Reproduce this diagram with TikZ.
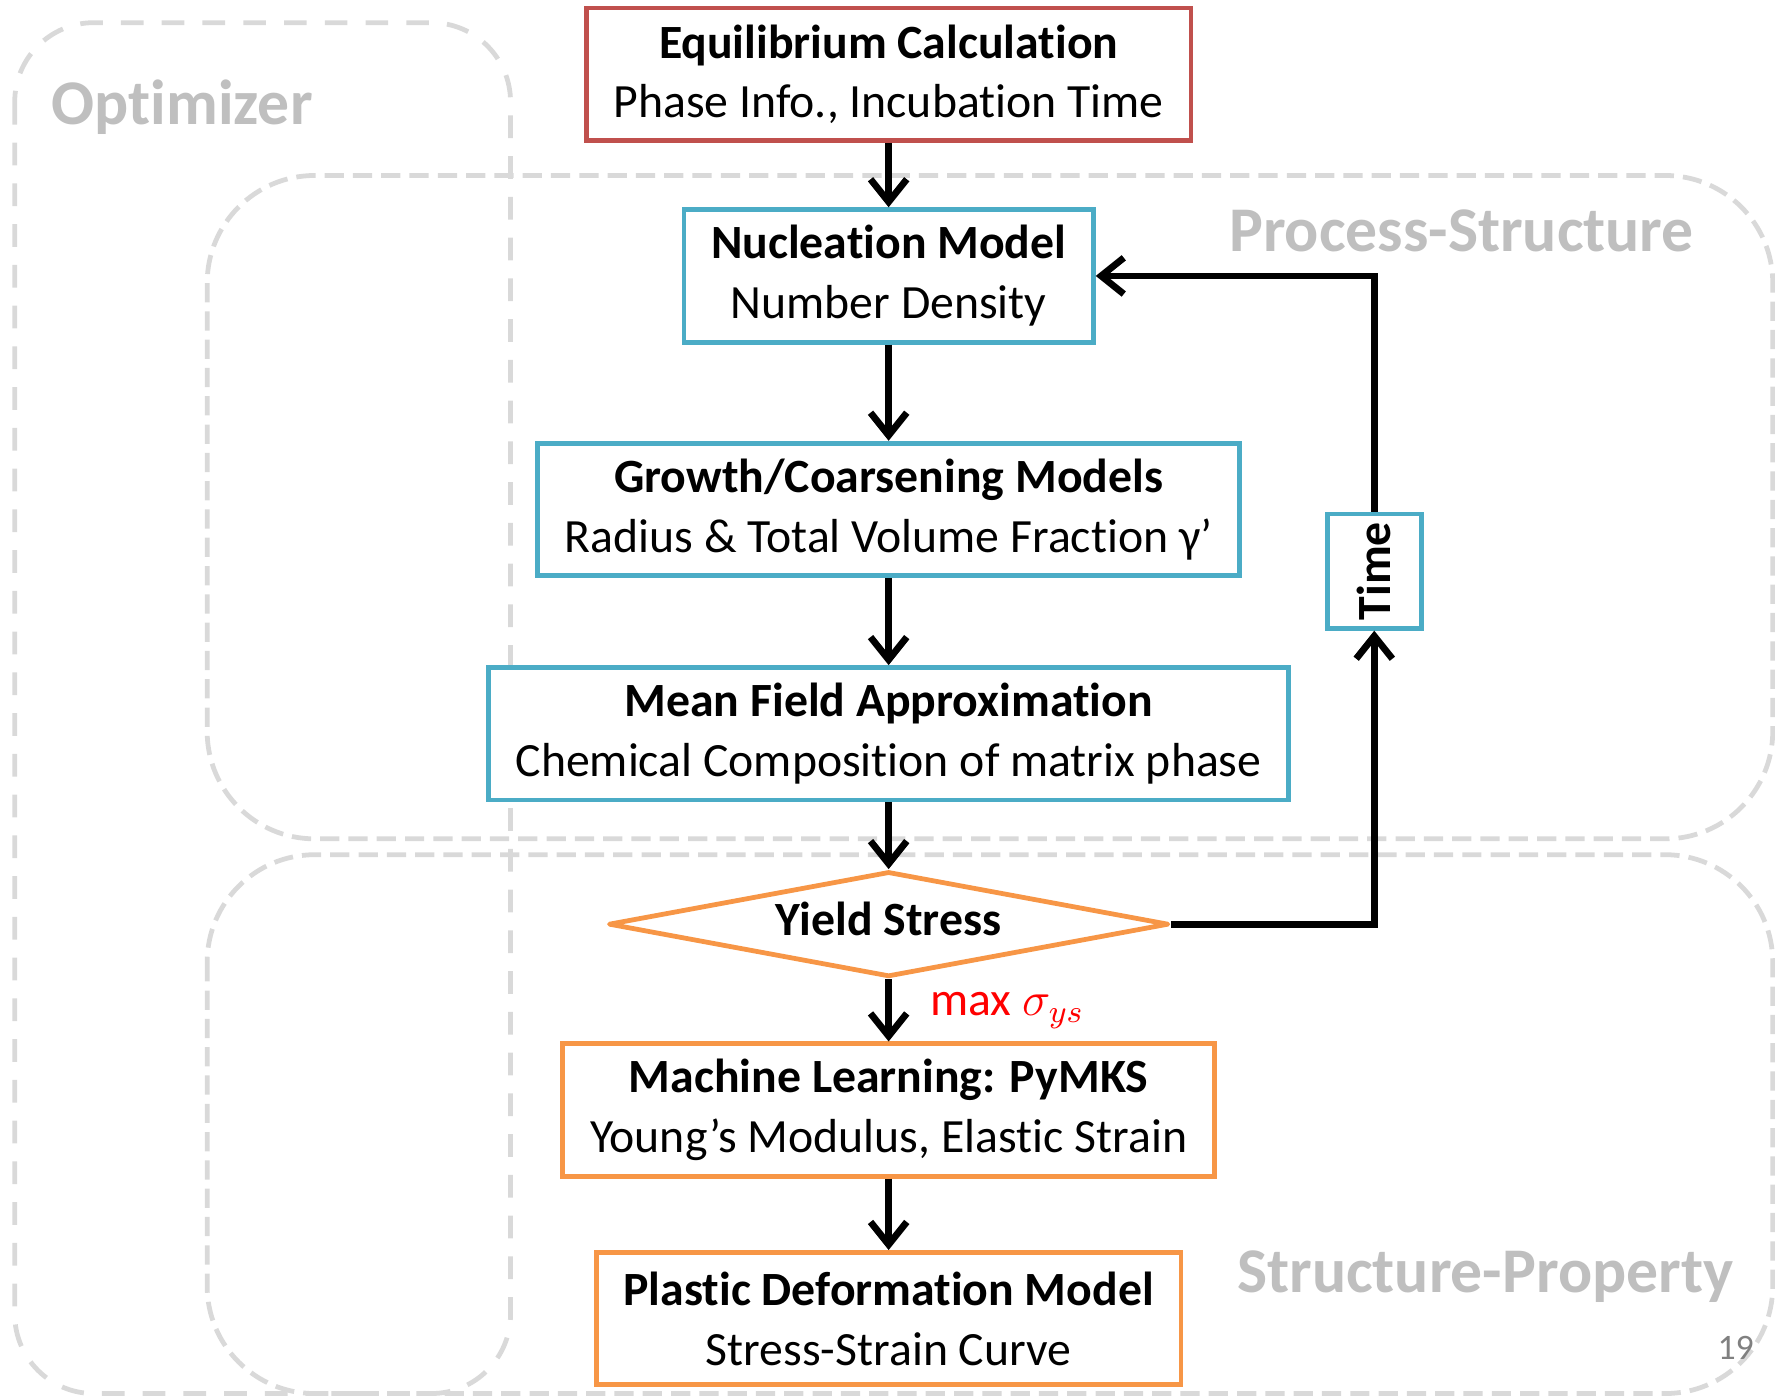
\documentclass[tikz,border=0pt]{standalone}
\usepackage{fontspec}
\setmainfont{Carlito}[Ligatures=NoCommon]
\usetikzlibrary{shapes.geometric, arrows.meta, positioning}

\definecolor{eqred}{HTML}{C0504D}
\definecolor{psblue}{HTML}{4BACC6}
\definecolor{sporange}{HTML}{F79646}
\definecolor{zonegray}{HTML}{D9D9D9}
\definecolor{labelgray}{HTML}{BFBFBF}

\begin{document}
\begin{tikzpicture} [
    block/.style={rectangle, draw=psblue, line width=1.2pt, fill=white, align=center, minimum height=1.17cm, inner xsep=0.24cm, font=\fontsize{12}{15}\selectfont},
    decision/.style={diamond, aspect=5, draw=sporange, line width=1.2pt, line join=round, fill=white, minimum width=4.95cm, minimum height=0.93cm, inner sep=0pt, text height=0.25cm, text depth=0.05cm, font=\fontsize{12}{15}\selectfont\bfseries},
    zone/.style={draw=zonegray, line width=1.2pt, dash pattern=on 0.17cm off 0.08cm, rounded corners=0.95cm},
    region/.style={text=labelgray, inner sep=0pt, font=\fontsize{16}{19}\selectfont\bfseries},
    line/.style={draw, line width=1.7pt, -{Straight Barb[length=0.2cm, width=0.32cm]}},
    anno/.style={text=red, font=\fontsize{12}{15}\selectfont}
]
    \useasboundingbox (0,0) rectangle (15.68,-12.34);

    % Zones
    \draw[zone, dash pattern=on 0.2cm off 0.16cm, rounded corners=0.7cm] (0.13,-0.20) rectangle (4.51,-12.31);
    \draw[zone] (1.83,-1.55) rectangle (15.66,-7.41);
    \draw[zone] (1.83,-7.55) rectangle (15.66,-12.31);

    \node[region, anchor=base west] (optimizer) at (0.45,-1.10) {Optimizer};
    \node[region, anchor=base east] (process) at (14.97,-2.22) {Process-Structure};
    \node[region, anchor=base east] (property) at (15.32,-11.42) {Structure-Property};
    \node[anchor=base east, text=gray, inner sep=0pt, font=\fontsize{9}{11}\selectfont] (page) at (15.50,-12.01) {19};

    % Nodes
    \node[block, draw=eqred] (eq) at (7.85,-0.655) {\textbf{Equilibrium Calculation}\\Phase Info., Incubation Time};
    \node[block, below=0.57cm of eq] (nuc) {\textbf{Nucleation Model}\\Number Density};
    \node[block, below=0.85cm of nuc] (growth) {\textbf{Growth/Coarsening Models}\\Radius \& Total Volume Fraction γ’};
    \node[block, below=0.77cm of growth] (mf) {\textbf{Mean Field Approximation}\\Chemical Composition of matrix phase};
    \node[decision, below=0.59cm of mf] (ys) {Yield Stress};
    \node[block, draw=sporange, below=0.55cm of ys] (ml) {\textbf{Machine Learning: PyMKS}\\Young’s Modulus, Elastic Strain};
    \node[block, draw=sporange, below=0.63cm of ml] (plastic) {\textbf{Plastic Deformation Model}\\Stress-Strain Curve};

    \node[block, minimum width=0.83cm, minimum height=1.01cm, inner sep=0pt] (time) at (12.14,-5.045) {\rotatebox{90}{\textbf{Time}}};

    % Arrows
    \path [line] (eq) -- (nuc);
    \path [line] (nuc) -- (growth);
    \path [line] (growth) -- (mf);
    \path [line] (mf) -- (ys);
    \path [line] (ys) -- node[anno, right=0.22cm] {max $\sigma_{ys}$} (ml);
    \path [line] (ml) -- (plastic);
    \path [line] (ys.east) -| (time.south);
    \path [line] (time.north) |- (nuc.east);

\end{tikzpicture}
\end{document}
